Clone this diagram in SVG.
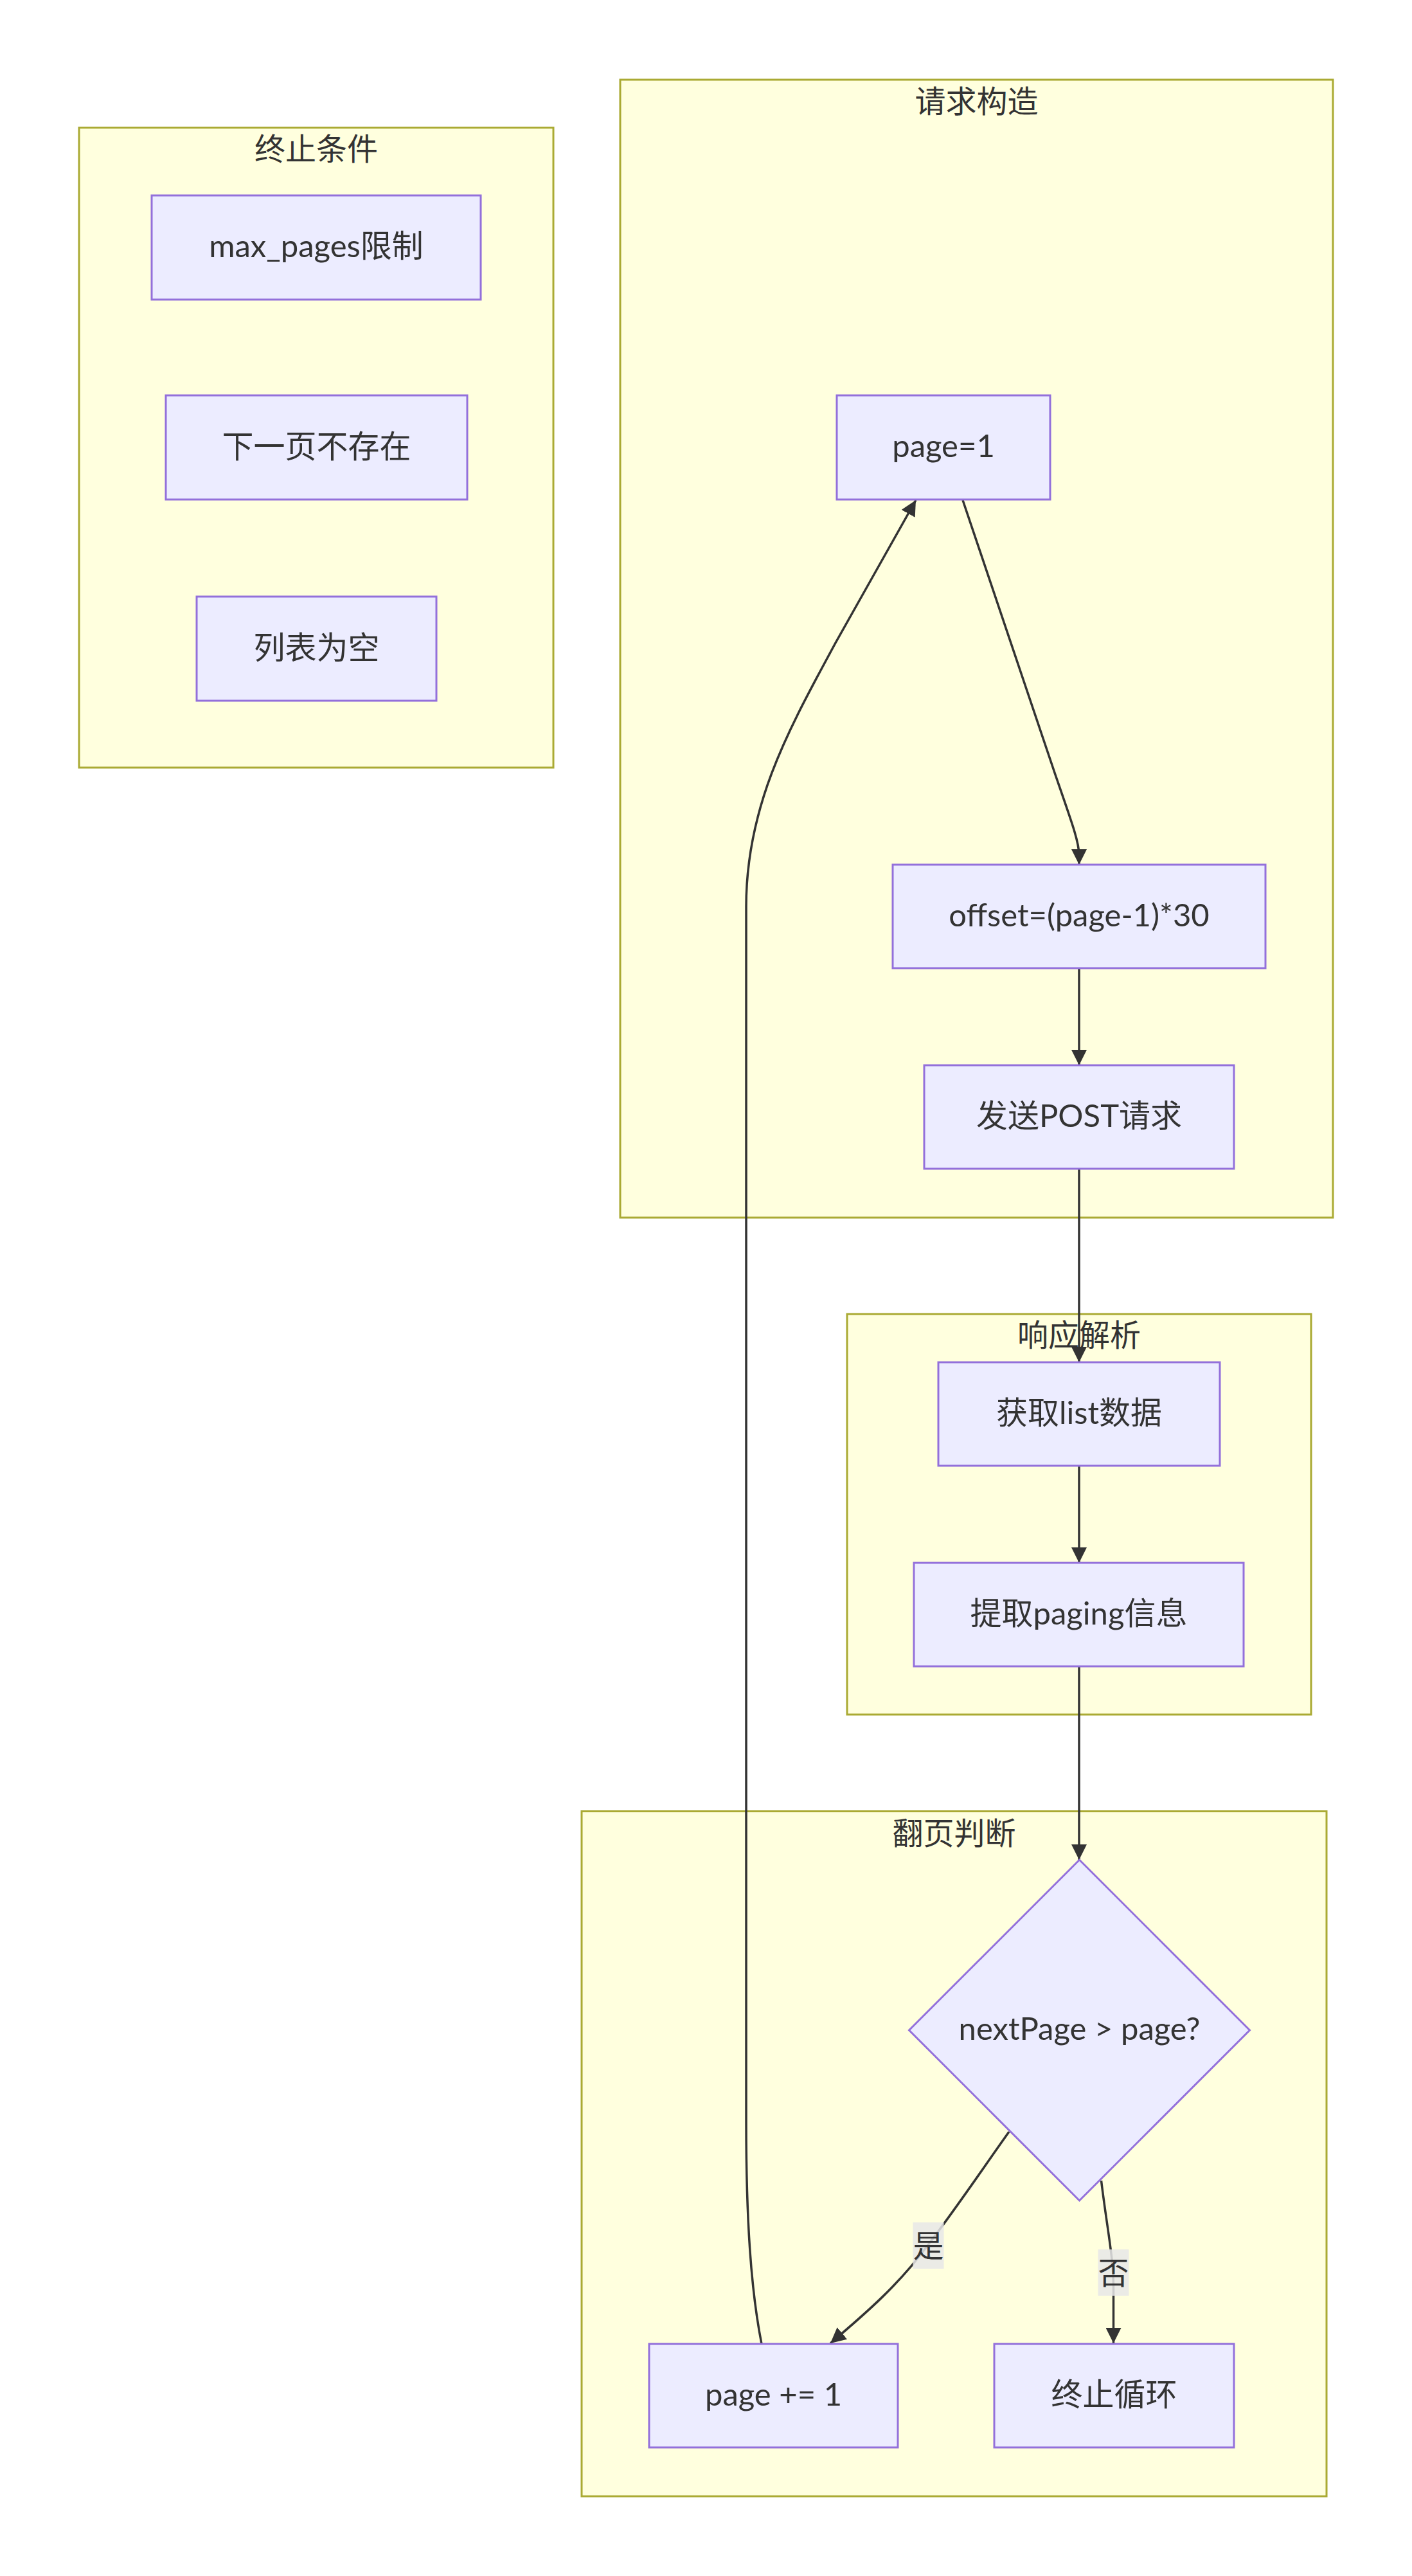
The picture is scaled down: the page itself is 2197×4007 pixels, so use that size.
<svg xmlns="http://www.w3.org/2000/svg" width="2197" height="4007" viewBox="0 0 2197 4007">
<defs>
<style>
.cluster rect{fill:#ffffde;stroke:#aaaa33;stroke-width:3}
.node rect,.node polygon{fill:#ECECFF;stroke:#9370DB;stroke-width:3}
text{font-family:"Lato","Noto Sans CJK SC",sans-serif;font-size:48px;fill:#333333;text-anchor:middle;dominant-baseline:central}
.node text{font-size:49px}
.edge{fill:none;stroke:#333333;stroke-width:3.5}
.lbl{fill:#e8e8e8;fill-opacity:0.85}
</style>
<marker id="arrow" markerUnits="userSpaceOnUse" viewBox="0 0 24 24" refX="24" refY="12" markerWidth="24" markerHeight="24" orient="auto">
<path d="M0,0 L24,12 L0,24 z" fill="#333333"/>
</marker>
</defs>
<rect width="2197" height="4007" fill="#ffffff"/>
<g id="clusters">
<g id="cluster-stop" class="cluster"><rect x="123" y="198.5" width="738" height="995.5"/><text x="492" y="230">终止条件</text></g>
<g id="cluster-request" class="cluster"><rect x="965" y="124" width="1109" height="1770"/><text x="1519.5" y="156">请求构造</text></g>
<g id="cluster-response" class="cluster"><rect x="1318" y="2044" width="722" height="623"/><text x="1679" y="2075">响应解析</text></g>
<g id="cluster-paging" class="cluster"><rect x="905" y="2817.5" width="1159" height="1065.5"/><text x="1484.5" y="2850">翻页判断</text></g>
</g>
<g id="connectors">
<path class="edge" d="M1498,778 L1642,1205 C1668,1280 1679,1310 1679,1330 L1679,1345" marker-end="url(#arrow)"/>
<path class="edge" d="M1679,1506 L1679,1657" marker-end="url(#arrow)"/>
<path class="edge" d="M1679,1818 L1679,2119" marker-end="url(#arrow)"/>
<path class="edge" d="M1679,2280 L1679,2431" marker-end="url(#arrow)"/>
<path class="edge" d="M1679,2592 L1679,2893" marker-end="url(#arrow)"/>
<path class="edge" d="M1570,3316 C1530,3372 1490,3432 1444,3492 C1400,3552 1350,3596 1292,3645" marker-end="url(#arrow)"/>
<path class="edge" d="M1713.5,3392 C1723,3470 1732.5,3510 1732.5,3560 L1732.5,3645" marker-end="url(#arrow)"/>
<path class="edge" d="M1185,3646 C1168,3560 1161,3450 1161,3300 L1161,1410 C1161,1250 1230,1130 1300,1000 L1425,778" marker-end="url(#arrow)"/>
<g id="label-yes"><rect class="lbl" x="1420.5" y="3457" width="48" height="72"/><text x="1444.5" y="3492">是</text></g>
<g id="label-no"><rect class="lbl" x="1708.5" y="3499" width="48" height="72"/><text x="1732.5" y="3534">否</text></g>
</g>
<g id="node-max" class="node"><rect x="236" y="304" width="512" height="162"/><text x="492" y="381">max_pages限制</text></g>
<g id="node-nonext" class="node"><rect x="258" y="615" width="469" height="162"/><text x="492.5" y="693">下一页不存在</text></g>
<g id="node-empty" class="node"><rect x="306" y="928" width="373" height="162"/><text x="492.5" y="1006">列表为空</text></g>
<g id="node-page1" class="node"><rect x="1302" y="615" width="332" height="162"/><text x="1468" y="692">page=1</text></g>
<g id="node-offset" class="node"><rect x="1389" y="1345" width="580" height="161"/><text x="1679" y="1421.5">offset=(page-1)*30</text></g>
<g id="node-post" class="node"><rect x="1438" y="1657" width="482" height="161"/><text x="1679" y="1734">发送POST请求</text></g>
<g id="node-list" class="node"><rect x="1460" y="2119" width="438" height="161"/><text x="1679" y="2196">获取list数据</text></g>
<g id="node-paging" class="node"><rect x="1422" y="2431" width="513" height="161"/><text x="1678.5" y="2508">提取paging信息</text></g>
<g id="node-decision" class="node"><polygon points="1679.5,2893 1944.5,3158 1679.5,3423 1414.5,3158"/><text x="1679.5" y="3154">nextPage &gt; page?</text></g>
<g id="node-inc" class="node"><rect x="1010" y="3646" width="387" height="161"/><text x="1203.5" y="3723">page += 1</text></g>
<g id="node-end" class="node"><rect x="1547" y="3646" width="373" height="161"/><text x="1733.5" y="3723">终止循环</text></g>
</svg>
